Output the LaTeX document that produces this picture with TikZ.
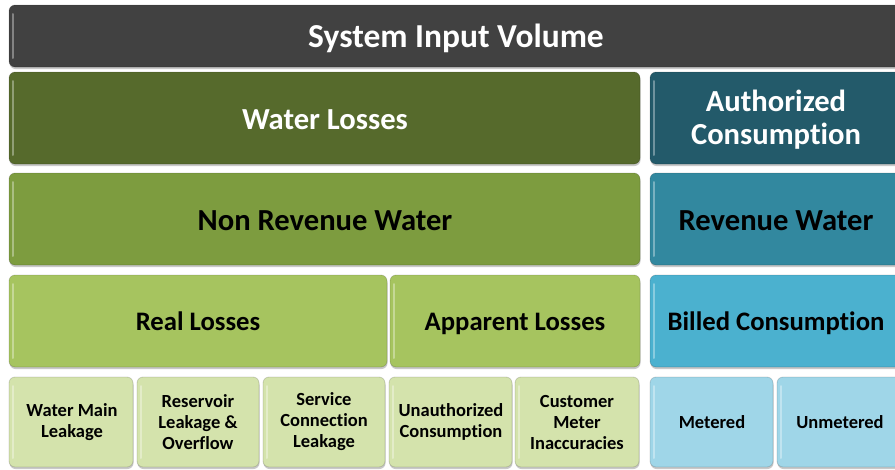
\documentclass[tikz,border=0pt]{standalone}
\usepackage{fontspec}
\setmainfont{Carlito}[Ligatures=NoCommon]
\usetikzlibrary{shadows}
\definecolor{cTop}{HTML}{414141}
\definecolor{cWL}{HTML}{566A2C}
\definecolor{cNRW}{HTML}{7D9C3F}
\definecolor{cRL}{HTML}{A6C45F}
\definecolor{cLeaf}{HTML}{D4E3AC}
\definecolor{cAC}{HTML}{235A6A}
\definecolor{cRW}{HTML}{32889F}
\definecolor{cBC}{HTML}{4BB1CF}
\definecolor{cMet}{HTML}{9FD6E8}
\begin{document}
\begin{tikzpicture}[x=1pt,y=-1pt,
  blk/.style={rounded corners=6pt, draw=black, draw opacity=0.15, line width=0.8pt,
    drop shadow={shadow xshift=0.5pt, shadow yshift=-2pt, opacity=0.35, fill=black!60},
    path picture={\draw[white, opacity=0.35, line width=2pt, line cap=round]
      ([xshift=4pt,yshift=-9pt]path picture bounding box.north west) --
      ([xshift=4pt,yshift=9pt]path picture bounding box.south west);}},
  lbl/.style={align=center, font=\bfseries},
  wt/.style={lbl, text=white},
  bk/.style={lbl, text=black},
  big/.style={font=\fontsize{30.6}{33}\bfseries},
  mid/.style={font=\fontsize{26.7}{30}\bfseries},
  sml/.style={font=\fontsize{18.5}{21}\bfseries}]
\useasboundingbox (0,0) rectangle (895,469);
\fill[white] (0,0) rectangle (895,469);
% boxes
\newcommand{\bx}[5]{%
  \filldraw[blk, fill=#5] (#1,#2) rectangle (#3,#4);}
\bx{9}{5}{903}{67}{cTop}
\bx{9}{72}{640}{164}{cWL}
\bx{650}{72}{903}{164}{cAC}
\bx{9}{173}{640}{265}{cNRW}
\bx{650}{173}{903}{265}{cRW}
\bx{9}{275}{387}{367}{cRL}
\bx{390}{275}{640}{367}{cRL}
\bx{650}{275}{903}{367}{cBC}
\bx{9}{377}{133}{467}{cLeaf}
\bx{137}{377}{259}{467}{cLeaf}
\bx{263}{377}{385}{467}{cLeaf}
\bx{389}{377}{512}{467}{cLeaf}
\bx{515}{377}{639}{467}{cLeaf}
\bx{650}{377}{773}{467}{cMet}
\bx{777}{377}{903}{467}{cMet}
% labels
\node[wt, font=\fontsize{33.5}{36}\bfseries, anchor=base] (siv) at (456,47) {System Input Volume};
\node[wt, big, anchor=base] (wl) at (325,129) {Water Losses};
\node[wt, big] (ac) at (776,120) {Authorized\\Consumption};
\node[bk, big, anchor=base] (nrw) at (325,230) {Non Revenue Water};
\node[bk, big, anchor=base] (rw) at (776,230) {Revenue Water};
\node[bk, mid, anchor=base] (rl) at (198,330) {Real Losses};
\node[bk, mid, anchor=base] (al) at (515,330) {Apparent Losses};
\node[bk, mid, anchor=base] (bc) at (776,330) {Billed Consumption};
\node[bk, sml] (wm) at (72,422) {Water Main\\Leakage};
\node[bk, sml] (rs) at (198,422) {Reservoir\\Leakage \&\\Overflow};
\node[bk, sml] (sc) at (324,422) {Service\\Connection\\Leakage};
\node[bk, sml] (uc) at (451,422) {Unauthorized\\Consumption};
\node[bk, sml] (cm) at (577,422) {Customer\\Meter\\Inaccuracies};
\node[bk, sml] (me) at (712,422) {Metered};
\node[bk, sml] (um) at (840,422) {Unmetered};
\end{tikzpicture}
\end{document}
